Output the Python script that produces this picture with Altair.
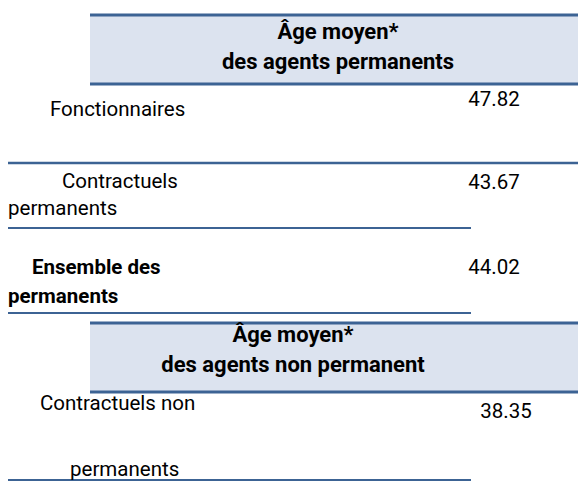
import altair as alt
import pandas as pd

# ---- data -------------------------------------------------------------
header_titles = [
    ["Âge moyen*", "des agents permanents"],
    ["Âge moyen*", "des agents non permanent"],
]
category_lines = [
    ["Fonctionnaires"],
    ["Contractuels", "permanents"],
    ["Ensemble des", "permanents"],
    ["Contractuels non", "permanents"],
]
values = [47.82, 43.67, 44.02, 38.35]
bold_rows = [False, False, True, False]

# ---- layout (page pixel coordinates) ---------------------------------
FONT = "Roboto"
FS_LABEL = 20.5
FS_VALUE = 20.5
FS_HEAD = 22
LINE_COLOR = "#3C6394"
BAND_COLOR = "#DCE3EF"

header_y = [(15, 84), (323, 392)]
header_text_x = [338, 293]
header_text_dy = [[17, 47], [12, 42]]

label_pos = [
    [(50, 110)],
    [(62, 182), (8, 209)],
    [(32, 268), (8, 297)],
    [(40, 404), (70, 470)],
]
value_pos = [(494, 100), (494, 183), (494, 268), (506, 412)]

rules = [
    (90, 586, 15, 3), (90, 586, 84, 3),
    (8, 586, 163, 2.5),
    (8, 471, 228, 2), (8, 471, 313, 2),
    (90, 586, 323, 3), (90, 586, 392, 3),
    (8, 471, 480, 2),
]

# ---- tables -----------------------------------------------------------
bands = pd.DataFrame(
    [{"x": 90, "x2": 586, "y": t, "y2": b} for (t, b) in header_y]
)
rules_df = pd.DataFrame(
    [{"x": a, "x2": b, "y": y, "w": w} for (a, b, y, w) in rules]
)
head_rows = []
for i, lines in enumerate(header_titles):
    for j, line in enumerate(lines):
        head_rows.append({"x": header_text_x[i], "y": header_y[i][0] + header_text_dy[i][j], "t": line})
head_df = pd.DataFrame(head_rows)

lab_rows = []
for i, lines in enumerate(category_lines):
    for j, line in enumerate(lines):
        x, y = label_pos[i][j]
        lab_rows.append({"x": x, "y": y, "t": line, "bold": bold_rows[i]})
lab_df = pd.DataFrame(lab_rows)

val_df = pd.DataFrame(
    [{"x": value_pos[i][0], "y": value_pos[i][1], "t": f"{v:.2f}"} for i, v in enumerate(values)]
)

# 1:1 mapping of page pixels (the page has an 8px margin)
xs = alt.Scale(domain=[8, 578], nice=False, zero=False)
ys = alt.Scale(domain=[8, 482], nice=False, zero=False, reverse=True)

def X(f="x"):
    return alt.X(f"{f}:Q", scale=xs, axis=None)

def Y(f="y"):
    return alt.Y(f"{f}:Q", scale=ys, axis=None)

band_layer = alt.Chart(bands).mark_rect(color=BAND_COLOR).encode(
    x=X(), x2="x2:Q", y=Y(), y2="y2:Q"
)
rule_layer = alt.Chart(rules_df).mark_rule(color=LINE_COLOR).encode(
    x=X(), x2="x2:Q", y=Y(),
    strokeWidth=alt.StrokeWidth("w:Q", scale=None, legend=None),
)
head_layer = alt.Chart(head_df).mark_text(
    font=FONT, fontSize=FS_HEAD, fontWeight="bold", align="center", baseline="middle", color="black"
).encode(x=X(), y=Y(), text="t:N")
lab_reg = alt.Chart(lab_df[~lab_df["bold"]]).mark_text(
    font=FONT, fontSize=FS_LABEL, align="left", baseline="middle", color="black"
).encode(x=X(), y=Y(), text="t:N")
lab_bold = alt.Chart(lab_df[lab_df["bold"]]).mark_text(
    font=FONT, fontSize=FS_LABEL, fontWeight="bold", align="left", baseline="middle", color="black"
).encode(x=X(), y=Y(), text="t:N")
val_layer = alt.Chart(val_df).mark_text(
    font=FONT, fontSize=FS_VALUE, align="center", baseline="middle", color="black"
).encode(x=X(), y=Y(), text="t:N")

chart = alt.layer(band_layer, rule_layer, head_layer, lab_reg, lab_bold, val_layer).properties(
    width=570, height=474, padding=0, autosize=alt.AutoSizeParams(type="none"),
    background="white",
).configure_view(stroke=None)

chart.save("out.html", embed_options={"renderer": "svg", "actions": False})
